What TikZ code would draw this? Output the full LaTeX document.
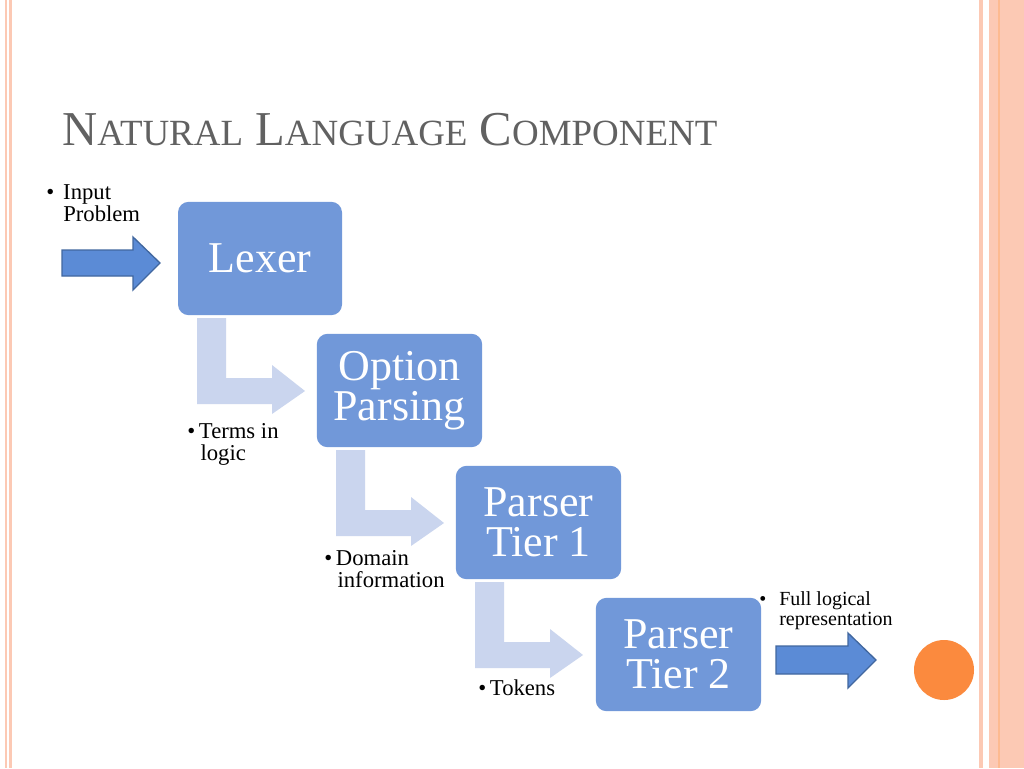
\documentclass[tikz,border=0pt]{standalone}
\usepackage{fontspec}
\setmainfont{Liberation Serif}
\begin{document}
\begin{tikzpicture}[x=0.75pt,y=-0.75pt,
 box/.style={fill=boxc,rounded corners=8pt,text=white,align=center,font=\fontsize{33}{30}\selectfont,inner sep=0},
 lbl/.style={anchor=north west,align=left,font=\fontsize{17}{16.5}\selectfont,inner sep=0}]
\definecolor{boxc}{HTML}{7198D9}
\definecolor{bendc}{HTML}{CAD5EE}
\definecolor{arrf}{HTML}{5B8BD6}
\definecolor{arrd}{HTML}{41679F}
\definecolor{peach}{HTML}{FCC9B4}
\definecolor{circ}{HTML}{FB8A3E}
\useasboundingbox (0,0) rectangle (1024,768);
\fill[white] (0,0) rectangle (1024,768);
% borders
\fill[peach] (5,0) rectangle (7,768);
\fill[peach] (9,0) rectangle (12,768);
\fill[peach] (979,0) rectangle (983,768);
\fill[peach] (989,0) rectangle (1024,768);
\fill[peach!80!orange] (998,0) rectangle (999.5,768);
% title
\node[anchor=base west,inner sep=0,text=black!62] (title) at (62,145)
 {\fontsize{36.5}{40}\selectfont N{\fontsize{27.7}{30}\selectfont ATURAL} L{\fontsize{27.7}{30}\selectfont ANGUAGE} C{\fontsize{27.7}{30}\selectfont OMPONENT}};
% bends
\foreach \i in {0,1,2}{
 \begin{scope}[shift={(139*\i,132*\i)}]
 \fill[bendc] (197,318) -- (226,318) -- (226,378) -- (272,378) -- (272,365) -- (305,391) -- (272,414) -- (272,404) -- (197,404) -- cycle;
 \end{scope}}
% boxes
\node[box,minimum width=123pt,minimum height=85pt] (lex) at (260,258.5) {Lexer};
\node[box,minimum width=124pt,minimum height=85pt] (opt) at (399.5,390.5) {Option\\Parsing};
\node[box,minimum width=124pt,minimum height=85pt] (p1) at (538.5,522.5) {Parser\\Tier 1};
\node[box,minimum width=124pt,minimum height=85pt] (p2) at (678.5,654.5) {Parser\\Tier 2};
% arrows
\filldraw[fill=arrf,draw=arrd,line width=1pt] (62,250) -- (133,250) -- (133,237) -- (160,263) -- (133,290) -- (133,276) -- (62,276) -- cycle;
\filldraw[fill=arrf,draw=arrd,line width=1pt] (776,646) -- (848,646) -- (848,633) -- (876,660) -- (848,688) -- (848,674) -- (776,674) -- cycle;
\fill[circ] (944,670) circle (30);
% labels
\node[lbl] (t0) at (46,184) {\makebox[12.75pt][l]{•}Input\\\hspace*{12.75pt}Problem};
\node[lbl] (t1) at (187,423) {•\,Terms in\\\hspace*{10pt}logic};
\node[lbl] (t2) at (324,550) {•\,Domain\\\hspace*{10pt}information};
\node[lbl] (t3) at (478,679) {•\,Tokens};
\node[lbl,font=\fontsize{15}{15}\selectfont] (t4) at (759,591) {\makebox[15pt][l]{•}Full logical\\\hspace*{15pt}representation};
\end{tikzpicture}
\end{document}
